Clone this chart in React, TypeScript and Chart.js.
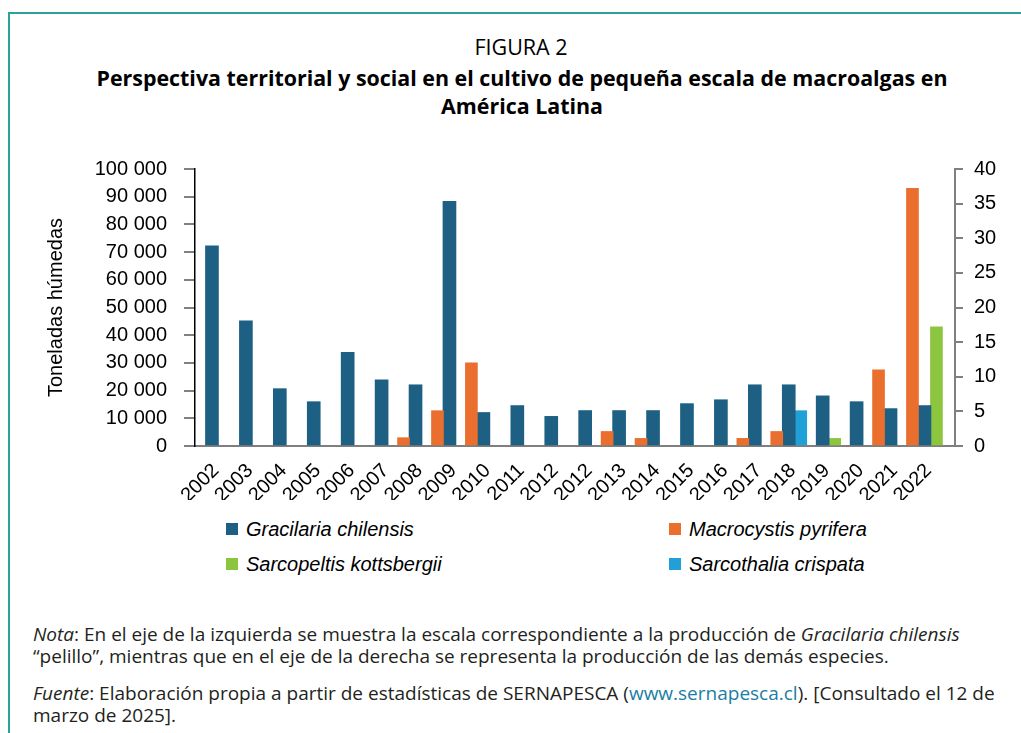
import React, { useEffect, useRef } from 'react';
import { Chart, registerables } from 'chart.js';

Chart.register(...registerables);

// ---------- data ----------
const years = [
  '2002', '2003', '2004', '2005', '2006', '2007', '2008', '2009', '2010', '2011', '2012',
  '2012', '2013', '2014', '2015', '2016', '2017', '2018', '2019', '2020', '2021', '2022',
];
// toneladas húmedas (left axis)
const gracilaria = [
  72300, 45200, 20700, 16000, 33800, 23900, 22100, 88300, 12100, 14600, 10700,
  12800, 12800, 12800, 15300, 16700, 22100, 22100, 18100, 16000, 13500, 14600,
];
// right axis
const macrocystis = [
  null, null, null, null, null, null, 1.2, 5.1, 12.0, null, null,
  null, 2.1, 1.1, null, null, 1.1, 2.1, null, null, 11.0, 37.2,
];
const sarcopeltis = [
  null, null, null, null, null, null, null, null, null, null, null,
  null, null, null, null, null, null, null, 1.1, null, null, 17.2,
];
const sarcothalia = [
  null, null, null, null, null, null, null, null, null, null, null,
  null, null, null, null, null, null, 5.1, null, null, null, null,
];
const leftAxis = { min: 0, max: 100000, step: 10000 };
const rightAxis = { min: 0, max: 40, step: 5 };

const BLUE = '#1d6083';
const ORANGE = '#ea6f2f';
const GREEN = '#8cc63f';
const LIGHTBLUE = '#21a0d8';
const TEAL = '#2aa39a';

const toPoints = (vals: (number | null)[]) => vals.map((y, x) => ({ x, y }));
const fmtThousands = (v: number) => String(v).replace(/\B(?=(\d{3})+(?!\d))/g, ' ');

const legendItems = [
  { label: 'Gracilaria chilensis', color: BLUE, left: 226, top: 529 },
  { label: 'Macrocystis pyrifera', color: ORANGE, left: 669, top: 529 },
  { label: 'Sarcopeltis kottsbergii', color: GREEN, left: 226, top: 564 },
  { label: 'Sarcothalia crispata', color: LIGHTBLUE, left: 669, top: 564 },
];

const CHART_FONT = '"Liberation Sans", Arial, sans-serif';
const TEXT_FONT = '"Open Sans", "Noto Sans", sans-serif';

export default function App() {
  const ref = useRef<HTMLCanvasElement>(null);

  useEffect(() => {
    if (!ref.current) return;
    Chart.defaults.font.family = CHART_FONT;
    Chart.defaults.font.size = 20;
    Chart.defaults.color = '#000';
    const chart = new Chart(ref.current, {
      type: 'bar',
      data: {
        datasets: [
          { label: 'Macrocystis pyrifera', data: toPoints(macrocystis), backgroundColor: ORANGE, yAxisID: 'y1', stack: 'a', barThickness: 12 },
          { label: 'Gracilaria chilensis', data: toPoints(gracilaria), backgroundColor: BLUE, yAxisID: 'y', stack: 'b', barThickness: 13 },
          { label: 'Sarcopeltis kottsbergii', data: toPoints(sarcopeltis), backgroundColor: GREEN, yAxisID: 'y1', stack: 'c', barThickness: 12 },
          { label: 'Sarcothalia crispata', data: toPoints(sarcothalia), backgroundColor: LIGHTBLUE, yAxisID: 'y1', stack: 'c', barThickness: 12 },
        ] as any,
      },
      options: {
        animation: false,
        responsive: false,
        maintainAspectRatio: false,
        layout: { padding: { left: 44, top: 25, right: 0, bottom: 0 } },
        plugins: { legend: { display: false }, tooltip: { enabled: false } },
        scales: {
          x: {
            type: 'linear',
            offset: false,
            min: -0.5,
            max: 21.9,
            grid: { display: false, offset: false },
            border: { color: '#7f7f7f', width: 2 },
            afterBuildTicks: (s: any) => {
              s.ticks = years.map((_, i) => ({ value: i }));
            },
            afterFit: (s: any) => {
              s.height = 54;
            },
            ticks: {
              autoSkip: false,
              maxRotation: 45,
              minRotation: 45,
              padding: 5,
              labelOffset: 4,
              color: '#000',
              font: { size: 20 },
              callback: (v: any) => years[v as number] ?? '',
            },
          },
          y: {
            position: 'left',
            stacked: false,
            min: leftAxis.min,
            max: leftAxis.max,
            ticks: { stepSize: leftAxis.step, padding: 17, color: '#000', font: { size: 20 }, callback: (v: any) => fmtThousands(v) },
            grid: { drawOnChartArea: false, tickLength: 11, color: '#808080', lineWidth: 2 },
            border: { color: '#000', width: 1.5 },
            title: { display: true, text: 'Toneladas húmedas', color: '#000', font: { size: 20 }, padding: 0 },
            afterFit: (s: any) => {
              s.width = 151;
            },
          },
          y1: {
            position: 'right',
            stacked: false,
            min: rightAxis.min,
            max: rightAxis.max,
            ticks: { stepSize: rightAxis.step, padding: 11, color: '#000', font: { size: 20 } },
            grid: { drawOnChartArea: false, tickLength: 8, color: '#808080', lineWidth: 2 },
            border: { color: '#808080', width: 2 },
            afterFit: (s: any) => {
              s.width = 66;
            },
          },
        },
      } as any,
    });
    return () => chart.destroy();
  }, []);

  return (
    <div style={{ position: 'absolute', left: 0, top: 0, width: 1021, height: 733, background: '#fff', overflow: 'hidden' }}>
      {/* frame */}
      <div style={{ position: 'absolute', left: 8, top: 12, width: 1100, height: 800, borderLeft: `2px solid ${TEAL}`, borderTop: `2px solid ${TEAL}` }} />
      {/* titles */}
      <div style={{ position: 'absolute', left: 0, width: 1042, top: 34, lineHeight: '26px', fontFamily: TEXT_FONT, fontSize: 21.5, textAlign: 'center', color: '#000' }}>
        FIGURA 2
      </div>
      <div style={{ position: 'absolute', left: 0, width: 1044, top: 64, lineHeight: '28px', fontFamily: TEXT_FONT, fontSize: 21.4, fontWeight: 700, textAlign: 'center', color: '#000', whiteSpace: 'nowrap' }}>
        Perspectiva territorial y social en el cultivo de pequeña escala de macroalgas en
        <br />
        América Latina
      </div>
      <canvas ref={ref} width={1021} height={360} style={{ position: 'absolute', left: 0, top: 140, width: 1021, height: 360 }} />
      {/* legend */}
      {legendItems.map((it) => (
        <div key={it.label} style={{ position: 'absolute', left: it.left, top: it.top - 12, height: 24, display: 'flex', alignItems: 'center', whiteSpace: 'nowrap' }}>
          <span style={{ display: 'inline-block', width: 12, height: 12, background: it.color, marginRight: 8 }} />
          <span style={{ fontFamily: CHART_FONT, fontStyle: 'italic', fontSize: 20, lineHeight: '24px', color: '#000' }}>{it.label}</span>
        </div>
      ))}
      {/* notes */}
      <div style={{ position: 'absolute', left: 33, top: 623, width: 985, lineHeight: '22px', fontFamily: TEXT_FONT, fontSize: 19, color: '#231f20', whiteSpace: 'nowrap' }}>
        <i>Nota</i>: En el eje de la izquierda se muestra la escala correspondiente a la producción de <i>Gracilaria chilensis</i>
        <br />
        “pelillo”, mientras que en el eje de la derecha se representa la producción de las demás especies.
      </div>
      <div style={{ position: 'absolute', left: 33, top: 682, width: 985, lineHeight: '22px', fontFamily: TEXT_FONT, fontSize: 19, color: '#231f20', whiteSpace: 'nowrap' }}>
        <i>Fuente</i>: Elaboración propia a partir de estadísticas de SERNAPESCA (<span style={{ color: '#1b7ea3' }}>www.sernapesca.cl</span>). [Consultado el 12 de
        <br />
        marzo de 2025].
      </div>
    </div>
  );
}
